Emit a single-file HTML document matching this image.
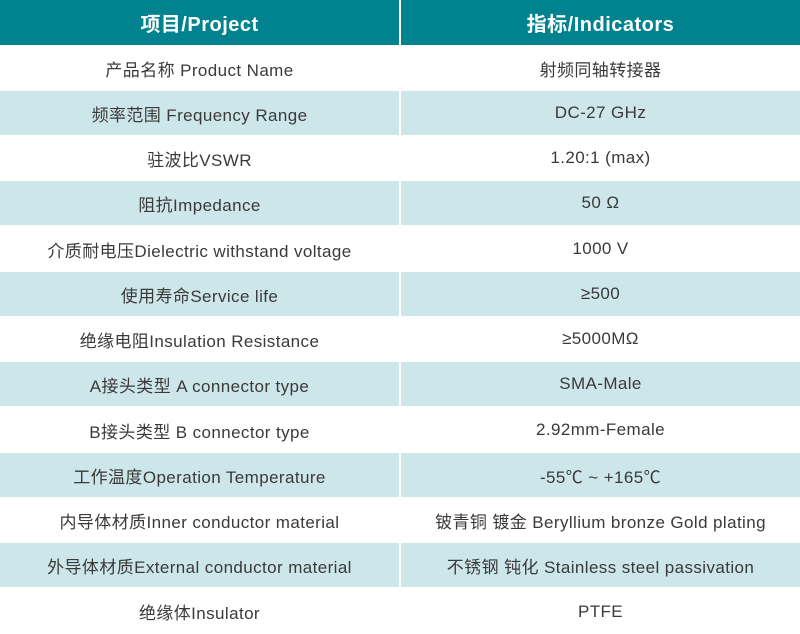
<!DOCTYPE html>
<html><head><meta charset="utf-8"><style>
body{margin:0;width:800px;height:634px;background:#fff;overflow:hidden;font-family:"Liberation Sans","Noto Sans CJK SC",sans-serif;}
.r{position:absolute;left:0;width:800px;height:44px;}
.c{position:absolute;top:0;height:100%;display:flex;align-items:center;justify-content:center;font-size:17px;letter-spacing:0.4px;color:#3a3a3a;}
.a{left:0;width:399px}.b{left:401px;width:399px}
.h .c{background:#00828f;color:#fff;font-weight:bold;font-size:20px;letter-spacing:0.5px}
.l .c{background:#cde6ea}
</style></head><body>
<div class="r h" style="top:0;height:45px"><div class="c a">项目/Project</div><div class="c b">指标/Indicators</div></div>
<div class="r" style="top:46px"><div class="c a">产品名称 Product Name</div><div class="c b">射频同轴转接器</div></div>
<div class="r l" style="top:91px"><div class="c a">频率范围 Frequency Range</div><div class="c b">DC-27 GHz</div></div>
<div class="r" style="top:136px"><div class="c a">驻波比VSWR</div><div class="c b">1.20:1 (max)</div></div>
<div class="r l" style="top:181px"><div class="c a">阻抗Impedance</div><div class="c b">50 Ω</div></div>
<div class="r" style="top:227px"><div class="c a">介质耐电压Dielectric withstand voltage</div><div class="c b">1000 V</div></div>
<div class="r l" style="top:272px"><div class="c a">使用寿命Service life</div><div class="c b">≥500</div></div>
<div class="r" style="top:317px"><div class="c a">绝缘电阻Insulation Resistance</div><div class="c b">≥5000MΩ</div></div>
<div class="r l" style="top:362px"><div class="c a">A接头类型 A connector type</div><div class="c b">SMA-Male</div></div>
<div class="r" style="top:408px"><div class="c a">B接头类型 B connector type</div><div class="c b">2.92mm-Female</div></div>
<div class="r l" style="top:453px"><div class="c a">工作温度Operation Temperature</div><div class="c b">-55℃ ~ +165℃</div></div>
<div class="r" style="top:498px"><div class="c a">内导体材质Inner conductor material</div><div class="c b">铍青铜 镀金 Beryllium bronze Gold plating</div></div>
<div class="r l" style="top:543px"><div class="c a">外导体材质External conductor material</div><div class="c b">不锈钢 钝化 Stainless steel passivation</div></div>
<div class="r" style="top:589px;height:45px"><div class="c a">绝缘体Insulator</div><div class="c b">PTFE</div></div>
</body></html>
